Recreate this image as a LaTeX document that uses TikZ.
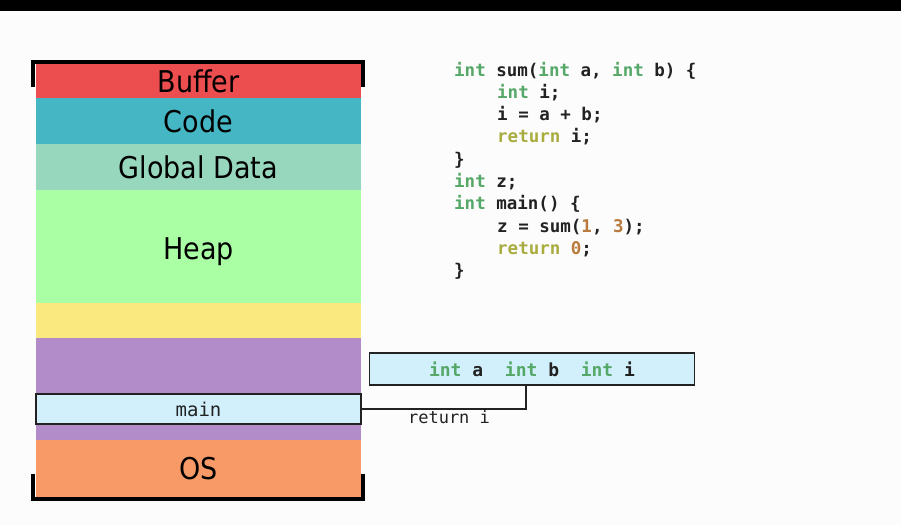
\documentclass[tikz,border=0pt]{standalone}
\usepackage{fontspec}
\usepackage{xcolor}
\usetikzlibrary{positioning, calc}
\newfontfamily\labelfont{DejaVu Sans Condensed}
\newfontfamily\codefont{DejaVu Sans Mono}
\definecolor{BufferRed}{HTML}{EC4D4F}
\definecolor{CodeTeal}{HTML}{45B7C4}
\definecolor{GlobalMint}{HTML}{96D7BE}
\definecolor{HeapGreen}{HTML}{AAFFA4}
\definecolor{FreeYellow}{HTML}{F9E97E}
\definecolor{StackPurple}{HTML}{B28BC9}
\definecolor{OSOrange}{HTML}{F79A68}
\definecolor{FrameBlue}{HTML}{D1F0FC}
\definecolor{KwGreen}{HTML}{55A868}
\definecolor{RetOlive}{HTML}{A9AC3F}
\definecolor{NumBrown}{HTML}{B87A3D}
\definecolor{InkBlack}{HTML}{222222}
\newcommand{\ckw}[1]{\textcolor{KwGreen}{#1}}
\newcommand{\cret}[1]{\textcolor{RetOlive}{#1}}
\newcommand{\cnum}[1]{\textcolor{NumBrown}{#1}}

\begin{document}
\begin{tikzpicture}[x=1pt, y=-1pt,
    seg/.style={minimum width=325pt, inner sep=0pt, text=black,
                font=\labelfont\fontsize{30}{30}\selectfont},
    frame/.style={draw=InkBlack, line width=1.3pt, fill=FrameBlue, inner sep=0pt,
                  minimum width=325pt, minimum height=32pt, text=InkBlack},
    code/.style={anchor=base west, inner sep=0pt, text=InkBlack,
                 font=\codefont\bfseries\fontsize{17.5}{20}\selectfont},
    bracket/.style={line width=4pt, black}]
% page and title bar
\useasboundingbox (0,0) rectangle (901,525);
\fill[white!99!black] (0,0) rectangle (901,525);
\fill[black] (0,0) rectangle (901,11);

% memory layout
\node[seg, fill=BufferRed, minimum height=34pt] (buffer) at (198.5,81) {Buffer};
\node[seg, fill=CodeTeal, minimum height=46pt] (code) at (198.5,121) {Code};
\node[seg, fill=GlobalMint, minimum height=46pt] (global) at (198.5,167) {Global Data};
\node[seg, fill=HeapGreen, minimum height=113pt,
      label={[yshift=-5pt, inner sep=0pt, font=\labelfont\fontsize{30}{30}\selectfont]center:Heap}] (heap) at (198.5,246.5) {};
\node[seg, fill=FreeYellow, minimum height=35pt] (free) at (198.5,320.5) {};
\node[seg, fill=StackPurple, minimum height=102pt] (stack) at (198.5,389) {};
\node[seg, fill=OSOrange, minimum height=58pt] (os) at (198.5,469) {OS};
\draw[bracket] (33,87) -- (33,62) -- (363,62) -- (363,87);
\draw[bracket] (33,474) -- (33,499) -- (363,499) -- (363,474);

% stack frames
\node[frame, minimum height=30pt, font=\codefont\fontsize{19}{20}\selectfont] (main) at (198.5,409) {main};
\node[frame, font=\codefont\bfseries\fontsize{18}{20}\selectfont] (sum) at (532,369)
    {\ckw{int} a\ \ \ckw{int} b\ \ \ckw{int} i};
\coordinate (sumcall) at (526,386);
\draw[InkBlack, line width=1.2pt] (main.east) -| (sumcall);
\node[text=InkBlack, inner sep=0pt, font=\codefont\fontsize{17}{20}\selectfont] (ret) at (449,417) {return i};

% source code
\foreach \i/\x/\line in {
    1/454/{\ckw{int} sum(\ckw{int} a, \ckw{int} b) \{},
    2/497/{\ckw{int} i;},
    3/497/{i = a + b;},
    4/497/{\cret{return} i;},
    5/454/{\}},
    6/454/{\ckw{int} z;},
    7/454/{\ckw{int} main() \{},
    8/497/{z = sum(\cnum{1}, \cnum{3});},
    9/497/{\cret{return} \cnum{0};},
    10/454/{\}}}
    \node[code] (line\i) at (\x,{76+(\i-1)*22.3}) {\line};
\end{tikzpicture}
\end{document}
